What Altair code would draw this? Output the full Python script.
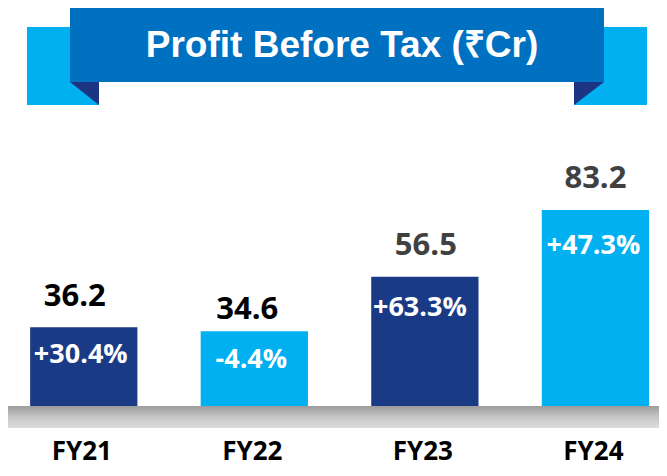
import altair as alt
import pandas as pd

# ---- data ----
years = ["FY21", "FY22", "FY23", "FY24"]
pbt = [36.2, 34.6, 56.5, 83.2]
growth = ["+30.4%", "-4.4%", "+63.3%", "+47.3%"]
title_text = "Profit Before Tax (₹Cr)"

NAVY = "#1B3A86"
SKY = "#00B0F0"
RIBBON = "#0070C0"
FOLD = "#1C3582"

df = pd.DataFrame({"year": years, "pbt": pbt, "growth": growth})
one = pd.DataFrame({"k": [0]})

W, H = 651, 460

x_enc = alt.X(
    "year:N",
    sort=years,
    axis=None,
    scale=alt.Scale(domain=years, paddingInner=0.371, paddingOuter=0.094, align=0.69),
)
y_enc = alt.Y("pbt:Q", axis=None, scale=alt.Scale(domain=[-20.15, 164.14], nice=False, zero=False))

base = alt.Chart(df)

# ---- banner ----
side_l = alt.Chart(one).mark_rect(color=SKY).encode(
    x=alt.value(19), x2=alt.value(91), y=alt.value(19), y2=alt.value(97))
side_r = alt.Chart(one).mark_rect(color=SKY).encode(
    x=alt.value(566), x2=alt.value(639), y=alt.value(19), y2=alt.value(97))
main_r = alt.Chart(one).mark_rect(color=RIBBON).encode(
    x=alt.value(62), x2=alt.value(596), y=alt.value(-4), y2=alt.value(74))
tri_l = alt.Chart(one).mark_point(
    shape="M -1 -0.793 L 1 -0.793 L 1 0.793 Z", filled=True, size=841,
    color=FOLD, opacity=1, strokeWidth=0,
).encode(x=alt.value(76.5), y=alt.value(85.5))
tri_r = alt.Chart(one).mark_point(
    shape="M -1 -0.767 L 1 -0.767 L -1 0.767 Z", filled=True, size=900,
    color=FOLD, opacity=1, strokeWidth=0,
).encode(x=alt.value(581), y=alt.value(85.5))
title = alt.Chart(one).mark_text(
    text=title_text, font="Liberation Sans", fontWeight="bold", fontSize=37,
    color="white", baseline="alphabetic", align="center",
).encode(x=alt.value(334), y=alt.value(49))

# ---- bars ----
bars = base.mark_bar().encode(
    x=x_enc,
    y=y_enc,
    y2=alt.datum(0),
    color=alt.Color("year:N", scale=alt.Scale(domain=years, range=[NAVY, SKY, NAVY, SKY]), legend=None),
)

band = alt.Chart(one).mark_rect(
    color=alt.LinearGradient(
        gradient="linear",
        stops=[
            alt.GradientStop(color="#9c9c9c", offset=0),
            alt.GradientStop(color="#c6c6c6", offset=0.5),
            alt.GradientStop(color="#dcdcdc", offset=1),
        ],
        x1=0, x2=0, y1=0, y2=1,
    )
).encode(x=alt.value(0), x2=alt.value(W), y=alt.value(398), y2=alt.value(420))


def value_label(sel, dx, dy, color):
    return base.transform_filter(
        alt.FieldOneOfPredicate(field="year", oneOf=sel)
    ).mark_text(
        font="Open Sans", fontWeight="bold", fontSize=31, color=color,
        dx=dx, dy=dy, baseline="alphabetic", align="center",
    ).encode(x=x_enc, y=y_enc, text=alt.Text("pbt:Q", format=".1f"))


def pct_label(sel, dx, dy):
    return base.transform_filter(
        alt.FieldOneOfPredicate(field="year", oneOf=sel)
    ).mark_text(
        font="Open Sans", fontWeight="bold", fontSize=27, color="white",
        dx=dx, dy=dy, baseline="alphabetic", align="center",
    ).encode(x=x_enc, y=y_enc, text="growth:N")


labels = [
    value_label(["FY21"], -9, -21, "#000000"),
    value_label(["FY22"], -7, -12, "#000000"),
    value_label(["FY23"], 1, -22, "#404040"),
    value_label(["FY24"], 0, -22, "#404040"),
    pct_label(["FY21"], -3, 36),
    pct_label(["FY22"], -3, 37),
    pct_label(["FY23"], -5, 39),
    pct_label(["FY24"], -2, 44),
]

fy = base.mark_text(
    font="Open Sans", fontWeight="bold", fontSize=26, color="#000000",
    baseline="alphabetic", align="center", dx=-2,
).encode(x=x_enc, y=alt.value(452), text="year:N")

chart = alt.layer(
    side_l, side_r, main_r, tri_l, tri_r, title, bars, band, *labels, fy
).properties(
    width=W, height=H, autosize=alt.AutoSizeParams(type="none"), padding=0
).configure(background="white").configure_view(stroke=None)

chart.save("out.html", embed_options={"renderer": "svg", "actions": False})
